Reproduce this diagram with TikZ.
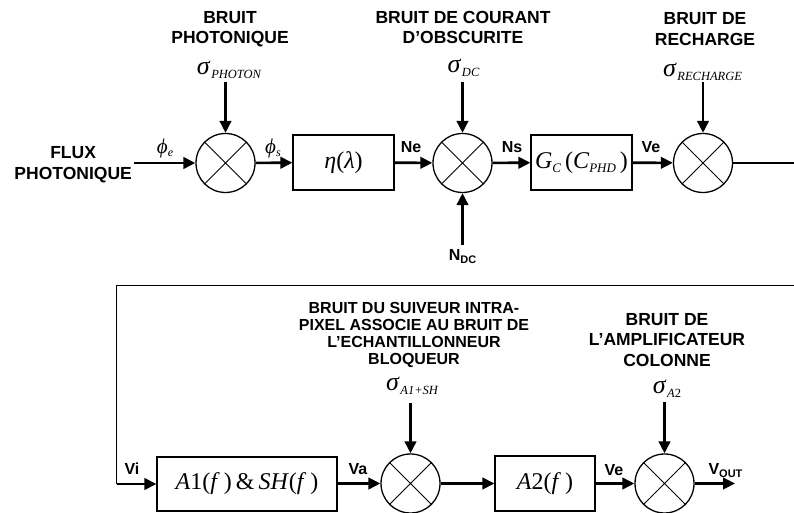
\documentclass[tikz,border=0pt]{standalone}
\usepackage{fontspec}
\setmainfont{Liberation Serif}
\setsansfont{Liberation Sans}
\usetikzlibrary{arrows.meta}
\newcommand\sgm[1]{{\fontsize{26}{26}\selectfont\itshape σ}\kern1.5pt\raisebox{-4.5pt}{\fontsize{12.5}{12.5}\selectfont\itshape #1}}
\newcommand\phisub[1]{{\fontsize{21}{21}\selectfont\itshape ϕ}\raisebox{-3.5pt}{\fontsize{12}{12}\selectfont\itshape #1}}
\newcommand\bsub[2]{#1\raisebox{-3pt}{\fontsize{11}{11}\selectfont #2}}
\newcommand\msub[1]{\raisebox{-4pt}{\fontsize{13}{13}\selectfont\itshape #1}}
\tikzset{
  x=1pt, y=1pt,
  lab/.style={font=\sffamily\bfseries\fontsize{17.5}{20.5}\selectfont, align=center, inner sep=0pt},
  labs/.style={font=\sffamily\bfseries\fontsize{16}{17.3}\selectfont, align=center, inner sep=0pt},
  sig/.style={inner sep=0pt},
  wl/.style={font=\sffamily\bfseries\fontsize{16}{16}\selectfont, inner sep=0pt},
  sumnode/.style={circle, draw, line width=1.3pt, minimum size=59pt, inner sep=0pt,
    path picture={\draw[line width=1pt] (path picture bounding box.north west) -- (path picture bounding box.south east)
      (path picture bounding box.north east) -- (path picture bounding box.south west);}},
  blk/.style={draw, line width=1.2pt, inner sep=0pt, font=\fontsize{24}{24}\selectfont},
  arr/.style={line width=2.6pt, -{Triangle[length=12pt,width=11.5pt]}},
  thin/.style={line width=1.4pt}
}
\begin{document}
\begin{tikzpicture}
\useasboundingbox (0,0) rectangle (794,513);
% ---- top row ----
\node[sumnode] (c1) at (225.5,350) {};
\node[sumnode] (c2) at (462.5,350) {};
\node[sumnode] (c3) at (703,350) {};
\node[blk, minimum width=101pt, minimum height=55pt] (eta) at (343.5,350.5) {\textit{η}(\textit{λ})};
\node[blk, minimum width=101pt, minimum height=55pt] (gc) at (581.5,350.5) {\textit{G}\msub{C}\,(\textit{C}\msub{PHD}\,)};
\node[lab, anchor=east] (flux) at (132,348.5) {FLUX\\PHOTONIQUE};
\node[lab] (bp) at (230,484) {BRUIT\\PHOTONIQUE};
\node[lab] (bdc) at (463,485.5) {BRUIT DE COURANT\\D’OBSCURITE};
\node[lab] (brc) at (705,484) {BRUIT DE\\RECHARGE};
\node[sig] (s1) at (229,443) {\sgm{PHOTON}};
\node[sig] (s2) at (463.5,445) {\sgm{DC}};
\node[sig] (s3) at (702.5,441) {\sgm{RECHARGE}};
\node[sig] (phe) at (165,365) {\phisub{e}};
\node[sig] (phs) at (273,365) {\phisub{s}};
\node[wl] (ne) at (411,366) {Ne};
\node[wl] (ns) at (512,366) {Ns};
\node[wl] (ve) at (651,366) {Ve};
\node[wl] (ndc) at (462.5,256) {\bsub{N}{DC}};
\coordinate (a1) at (225.5,431);
\coordinate (a2) at (462.5,431);
\coordinate (a3) at (703,431);
\coordinate (a4) at (462.5,268);
\coordinate (r1) at (794,350);
\draw[arr] (flux.east |- c1) ++(2,0) -- (c1);
\draw[arr] (c1) -- (eta);
\draw[arr] (eta) -- (c2);
\draw[arr] (c2) -- (gc);
\draw[arr] (gc) -- (c3);
\draw[arr] (a1) -- (c1);
\draw[arr] (a2) -- (c2);
\draw[arr] (a3) -- (c3);
\draw[arr] (a4) -- (c2);
\draw[thin] (c3) -- (r1);
% ---- bottom row ----
\node[sumnode] (c4) at (410.5,29.5) {};
\node[sumnode] (c5) at (664.5,29.5) {};
\node[blk, minimum width=180pt, minimum height=54pt] (a1b) at (247,29) {\textit{A}1(\textit{f}\,)\,\&\,\textit{SH}(\textit{f}\,)};
\node[blk, minimum width=100pt, minimum height=55pt] (a2b) at (545,29.5) {\textit{A}2(\textit{f}\,)};
\node[labs] (bsv) at (414,178) {BRUIT DU SUIVEUR INTRA-\\PIXEL ASSOCIE AU BRUIT DE\\L’ECHANTILLONNEUR\\BLOQUEUR};
\node[lab] (bac) at (667,173) {BRUIT DE\\L’AMPLIFICATEUR\\COLONNE};
\node[sig] (s4) at (412,127) {\sgm{\textit{A}1+\textit{SH}}};
\node[sig] (s5) at (667,124) {\sgm{A\textup{2}}};
\node[wl] (vi) at (132,44) {Vi};
\node[wl] (va) at (358,44) {Va};
\node[wl] (ve2) at (614,43) {Ve};
\node[wl] (vout) at (725.5,42) {\bsub{V}{OUT}};
\coordinate (r2) at (794,227.5);
\coordinate (k1) at (116.5,227.5);
\coordinate (k2) at (116.5,29);
\coordinate (a5) at (410.5,110);
\coordinate (a6) at (664.5,111);
\coordinate (out) at (735,29.5);
\draw[thin] (r2) -- (k1) -- (k2);
\draw[arr] (k2) -- (a1b);
\draw[arr] (a1b.east |- c4) -- (c4);
\draw[arr] (c4) -- (a2b.west |- c4);
\draw[arr] (a2b.east |- c5) -- (c5);
\draw[arr] (c5) -- (out);
\draw[arr] (a5) -- (c4);
\draw[arr] (a6) -- (c5);
\end{tikzpicture}
\end{document}
